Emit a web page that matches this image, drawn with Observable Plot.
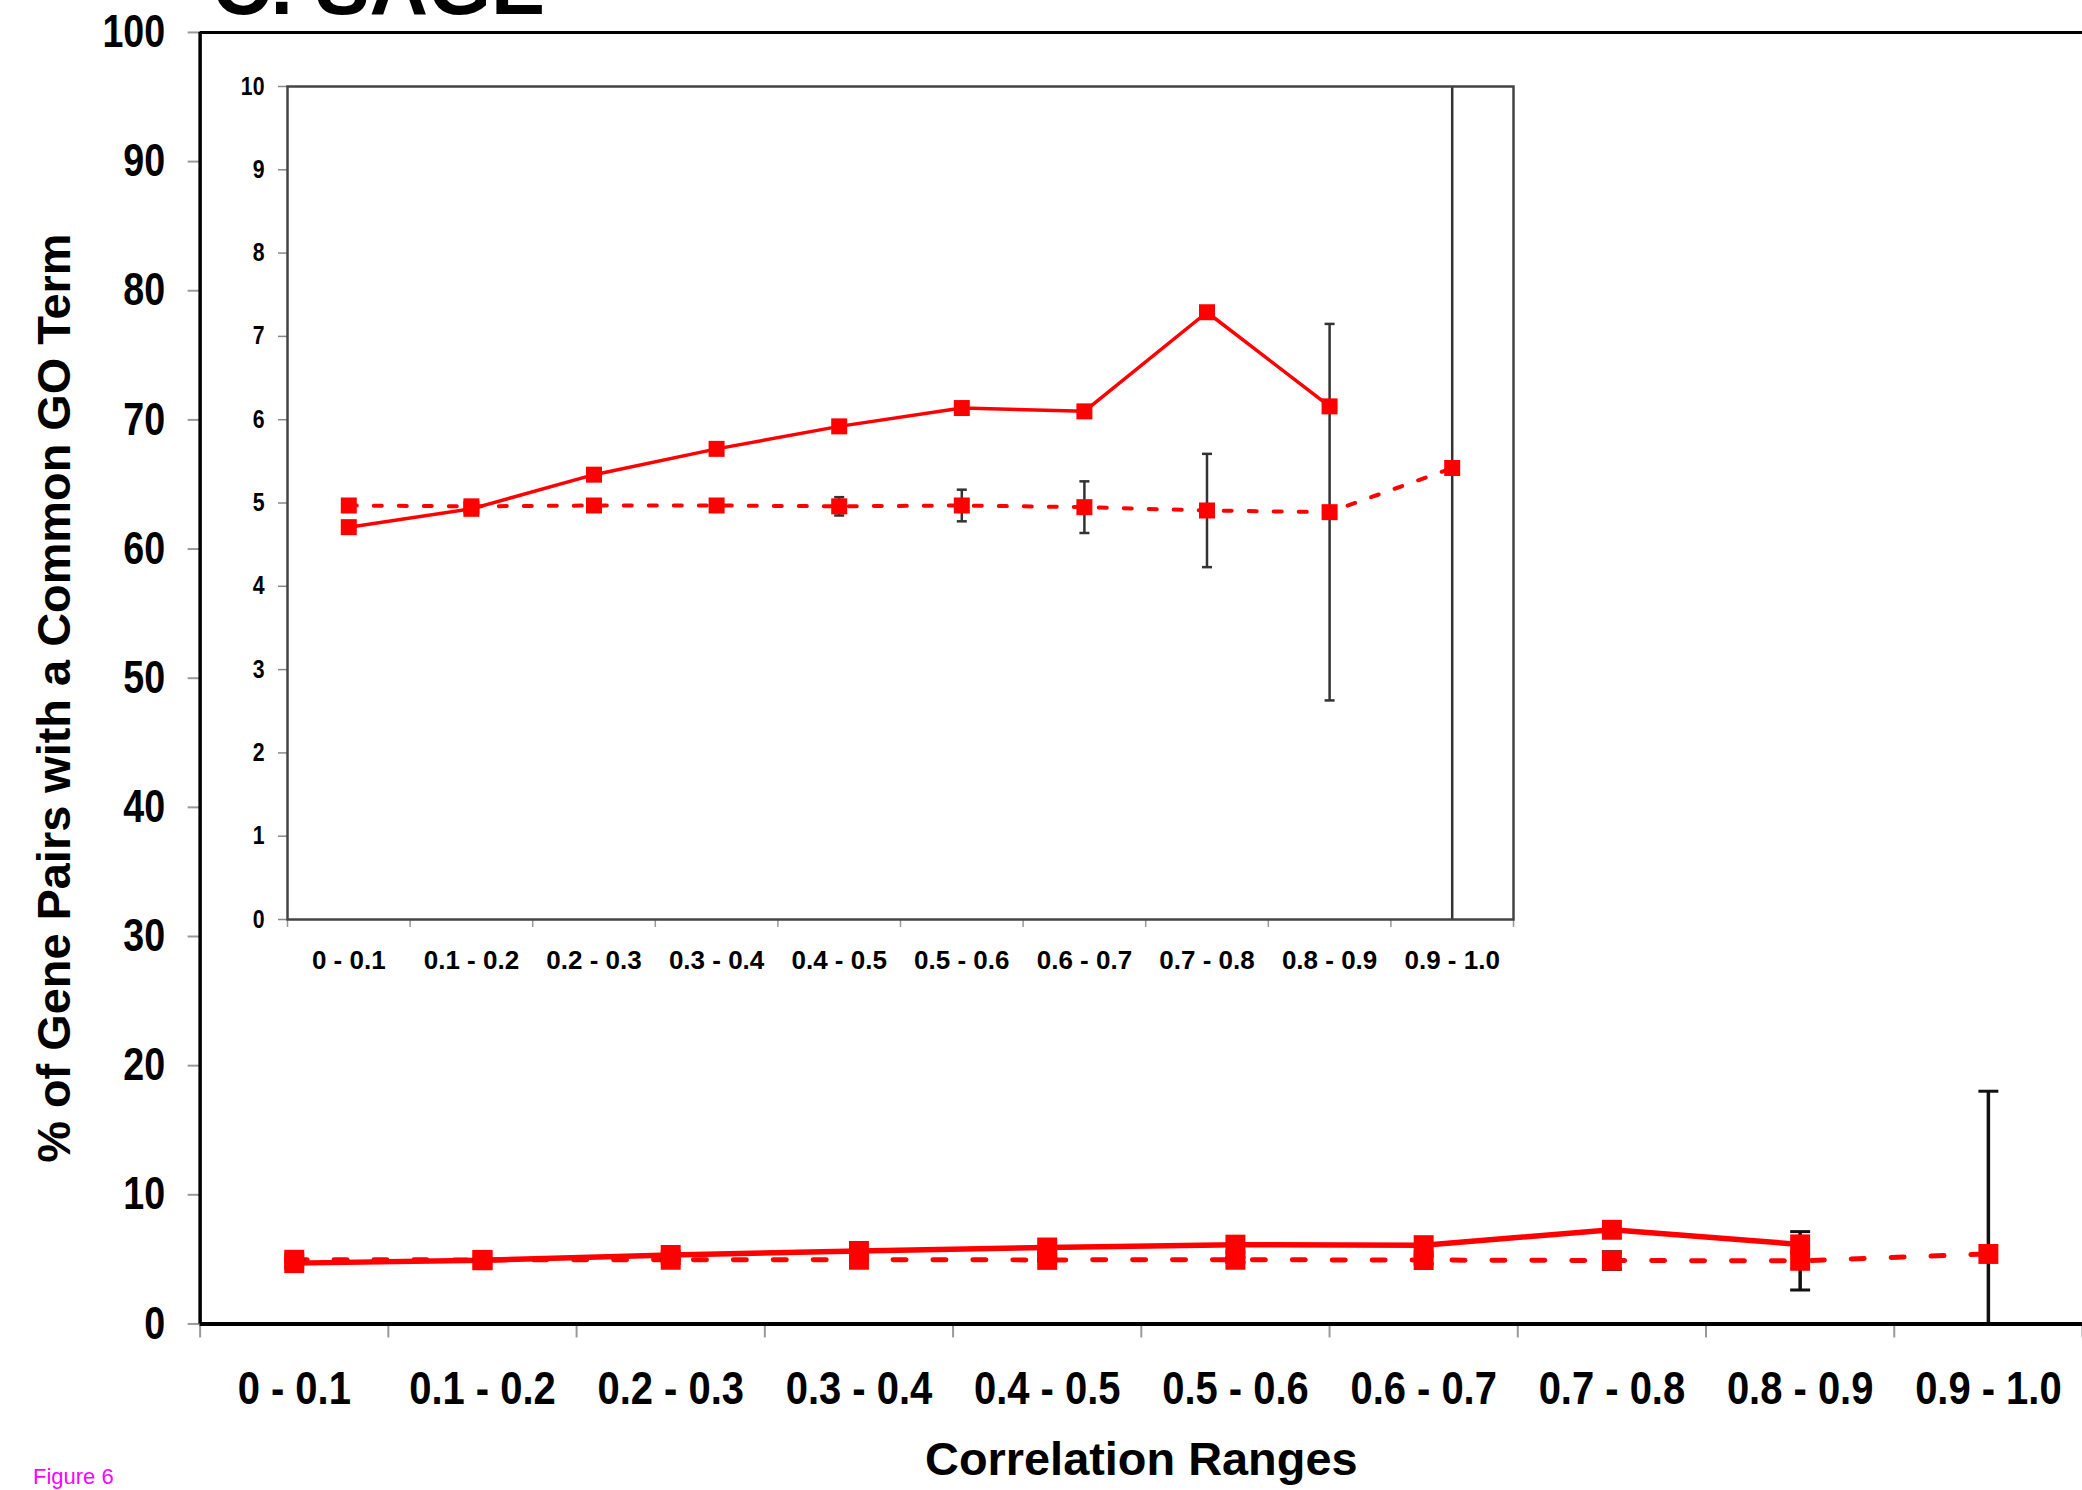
<!DOCTYPE html>
<html><head><meta charset="utf-8">
<script src="https://cdn.jsdelivr.net/npm/d3@7"></script>
<script src="https://cdn.jsdelivr.net/npm/@observablehq/plot@0.6"></script>
<style>
html,body{margin:0;padding:0;background:#fff;}
body{width:2082px;height:1490px;overflow:hidden;position:relative;}
#main,#inset{position:absolute;left:0;top:0;}
#title{position:absolute;left:212px;top:-54px;font:bold 81px "Liberation Sans",Arial,sans-serif;line-height:81px;white-space:nowrap;color:#000;}
#caption{position:absolute;left:33px;top:1466px;font:22px "Liberation Sans",Arial,sans-serif;line-height:22px;color:#ff00ff;white-space:nowrap;}
</style></head><body>
<div id="title">C. SAGE</div>
<div id="main"></div>
<div id="inset"></div>
<div id="caption">Figure 6</div>
<script>
// ---- data ----
const categories = ["0 - 0.1","0.1 - 0.2","0.2 - 0.3","0.3 - 0.4","0.4 - 0.5","0.5 - 0.6","0.6 - 0.7","0.7 - 0.8","0.8 - 0.9","0.9 - 1.0"];
const solidValues  = [4.71, 4.93, 5.34, 5.65, 5.92, 6.14, 6.10, 7.29, 6.16, null];
const dottedValues = [4.97, 4.96, 4.97, 4.97, 4.96, 4.97, 4.95, 4.91, 4.89, 5.42];
const dottedErrors = [0.02, 0.02, 0.02, 0.02, 0.11, 0.19, 0.31, 0.68, 2.26, 12.6];
const mainYTicks  = [0,10,20,30,40,50,60,70,80,90,100];
const insetYTicks = [0,1,2,3,4,5,6,7,8,9,10];
const yTitle = "% of Gene Pairs with a Common GO Term";
const xTitle = "Correlation Ranges";

// ---- tables ----
const centers = categories.map((c, i) => i + 0.5);
const boundaries = categories.map((c, i) => i).concat([categories.length]);
const solid = categories.map((c, i) => ({pos: i + 0.5, value: solidValues[i]}));
const dotted = categories.map((c, i) => ({
  pos: i + 0.5, value: dottedValues[i],
  lo: dottedValues[i] - dottedErrors[i], hi: dottedValues[i] + dottedErrors[i]
}));
const labelOf = d => categories[Math.floor(d)];

const RED = "#ff0000";
const font = "'Liberation Sans',Arial,sans-serif";
// horizontal line symbol for error-bar caps
const hline = {draw(ctx, size) { const w = Math.sqrt(size); ctx.moveTo(-w / 2, 0); ctx.lineTo(w / 2, 0); }};
const rFor = side => side / Math.sqrt(Math.PI);
// condense the glyphs of a group of texts horizontally (narrow bold look)
function condense(svg, ariaLabel, k) {
  d3.select(svg).selectAll(`g[aria-label="${ariaLabel}"] text`).each(function() {
    const t = this.getAttribute("transform") || "";
    this.setAttribute("transform", t + ` scale(${k},1)`);
  });
}

// ---- main chart ----
const main = Plot.plot({
  width: 2086, height: 1490,
  marginLeft: 200, marginRight: 0, marginTop: 32, marginBottom: 164,
  x: {type: "linear", domain: [0, categories.length], label: null},
  y: {domain: [0, 100], label: null},
  style: {background: "transparent", fontFamily: font, color: "#000"},
  marks: [
    Plot.axisY(mainYTicks, {tickSize: 12, tickPadding: 23, tickFormat: d => String(d), fontSize: 46, fontWeight: "bold", stroke: "#999", strokeWidth: 2, fill: "#000", label: null}),
    Plot.axisX(boundaries, {tickSize: 14, tickFormat: () => "", stroke: "#999", strokeWidth: 2, label: null}),
    Plot.axisX(centers, {tickSize: 0, tickPadding: 48, tickFormat: labelOf, fontSize: 46, fontWeight: "bold", fill: "#000", label: null}),
    Plot.ruleY([100], {stroke: "#000", strokeWidth: 3}),
    Plot.line(dotted, {x: "pos", y: "value", stroke: RED, strokeWidth: 5, strokeDasharray: "13,27"}),
    Plot.line(solid, {x: "pos", y: "value", stroke: RED, strokeWidth: 5.5}),
    Plot.ruleX(dotted, {x: "pos", y1: "lo", y2: "hi", stroke: "#111", strokeWidth: 3.5, clip: true}),
    Plot.dot(dotted, {x: "pos", y: "hi", symbol: hline, r: rFor(20), stroke: "#111", strokeWidth: 3, fill: "none", clip: true}),
    Plot.dot(dotted, {x: "pos", y: "lo", symbol: hline, r: rFor(20), stroke: "#111", strokeWidth: 3, fill: "none", clip: true}),
    Plot.dot(dotted, {x: "pos", y: "value", symbol: "square", r: rFor(20), fill: RED, stroke: null}),
    Plot.dot(solid.filter(d => d.value != null), {x: "pos", y: "value", symbol: "square", r: rFor(20), fill: RED, stroke: null}),
    Plot.ruleX([0], {stroke: "#000", strokeWidth: 3.5}),
    Plot.ruleY([0], {stroke: "#000", strokeWidth: 4}),
    Plot.text([yTitle], {text: d => d, frameAnchor: "left", textAnchor: "middle", rotate: -90, dx: -145, dy: 20, fontSize: 47, fontWeight: "bold", fill: "#000"}),
    Plot.text([xTitle], {text: d => d, frameAnchor: "bottom", textAnchor: "middle", dy: 151, fontSize: 47, fontWeight: "bold", fill: "#000"})
  ]
});
condense(main, "x-axis tick label", 0.87);
condense(main, "y-axis tick label", 0.82);
document.getElementById("main").appendChild(main);

// ---- inset chart ----
const inset = Plot.plot({
  width: 2082, height: 1000,
  marginLeft: 287, marginRight: 569, marginTop: 86, marginBottom: 81,
  x: {type: "linear", domain: [0, categories.length], label: null},
  y: {domain: [0, 10], label: null},
  style: {background: "transparent", fontFamily: font, color: "#000"},
  marks: [
    Plot.axisY(insetYTicks, {tickSize: 9, tickPadding: 14, tickFormat: d => String(d), fontSize: 25, fontWeight: "bold", stroke: "#888", strokeWidth: 1.5, fill: "#000", label: null}),
    Plot.axisX(boundaries, {tickSize: 8, tickFormat: () => "", stroke: "#999", strokeWidth: 1.5, label: null}),
    Plot.axisX(centers, {tickSize: 0, tickPadding: 31, tickFormat: labelOf, fontSize: 26, fontWeight: "bold", fill: "#000", label: null}),
    Plot.line(dotted, {x: "pos", y: "value", stroke: RED, strokeWidth: 4, strokeDasharray: "8,17"}),
    Plot.line(solid, {x: "pos", y: "value", stroke: RED, strokeWidth: 3.5}),
    Plot.ruleX(dotted, {x: "pos", y1: "lo", y2: "hi", stroke: "#333", strokeWidth: 2.5, clip: true}),
    Plot.dot(dotted, {x: "pos", y: "hi", symbol: hline, r: rFor(10), stroke: "#333", strokeWidth: 2.5, fill: "none", clip: true}),
    Plot.dot(dotted, {x: "pos", y: "lo", symbol: hline, r: rFor(10), stroke: "#333", strokeWidth: 2.5, fill: "none", clip: true}),
    Plot.dot(dotted, {x: "pos", y: "value", symbol: "square", r: rFor(16), fill: RED, stroke: null}),
    Plot.dot(solid.filter(d => d.value != null), {x: "pos", y: "value", symbol: "square", r: rFor(16), fill: RED, stroke: null}),
    Plot.frame({stroke: "#444", strokeWidth: 2.5})
  ]
});
condense(inset, "y-axis tick label", 0.85);
document.getElementById("inset").appendChild(inset);
</script>
</body></html>
